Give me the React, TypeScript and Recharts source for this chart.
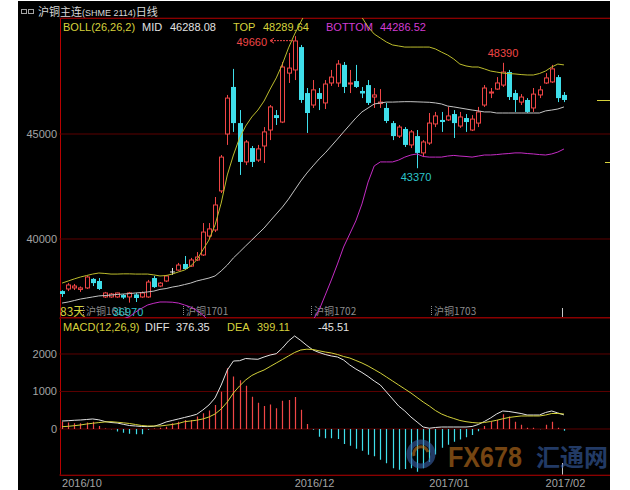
import { ComposedChart, Bar, Line, XAxis, YAxis, CartesianGrid } from "recharts"

// daily K-line, SHFE copper continuous (83 sessions)
const opens = [
  37520, 37620, 37670, 37600, 37670, 38100, 38000, 37240, 37240, 37240,
  37330, 37240, 37360, 37240, 37240, 38140, 37760, 38000, 38430, 38520,
  38810, 38710, 39000, 39240, 40140, 40430, 42290, 45000, 47240, 45520,
  43670, 44330, 43760, 44430, 45190, 45900, 45570, 47900, 48050, 49140,
  46950, 46380, 46950, 46480, 47430, 47430, 48290, 47400, 47520, 47050,
  47330, 46760, 46450, 46240, 45520, 44900, 45240, 44480, 44900, 44100,
  44570, 45480, 45670, 45670, 45950, 45380, 45760, 45190, 45520, 46380,
  46950, 47140, 47330, 47950, 46950, 46520, 46620, 46240, 46860, 47430,
  47480, 47710, 46860,
]
const highs = [
  37560, 37900, 37860, 37740, 38240, 38140, 38140, 37480, 37430, 37450,
  37380, 37480, 37430, 37500, 38050, 38240, 37950, 38290, 38620, 38860,
  39190, 39100, 39380, 40760, 40760, 42000, 44000, 46860, 48100, 46140,
  44710, 44430, 44480, 45330, 46380, 46140, 48430, 48860, 49660, 49240,
  47190, 47570, 47190, 47570, 48050, 48520, 48430, 48050, 48290, 47240,
  47570, 47190, 47140, 46480, 45620, 45430, 45330, 45190, 45190, 44710,
  46000, 46050, 46050, 46290, 46140, 46050, 45950, 45900, 46290, 47330,
  47190, 47710, 48390, 48050, 47100, 46900, 46710, 47190, 47290, 47900,
  48290, 47810, 47000,
]
const lows = [
  37240, 37520, 37570, 37480, 37620, 37760, 37570, 37190, 37200, 37200,
  37140, 36970, 37000, 37200, 37200, 37670, 37710, 37950, 38290, 38480,
  38520, 38670, 38950, 39190, 40050, 40330, 42190, 44480, 45100, 43050,
  43520, 43430, 43670, 43620, 44710, 45430, 45520, 47430, 47570, 46480,
  45050, 46240, 46140, 46190, 47290, 47240, 46950, 46950, 47190, 46710,
  46380, 46240, 46240, 45520, 44710, 44810, 44380, 44330, 43370, 43900,
  44480, 45330, 45100, 45620, 44810, 45290, 45100, 45140, 45330, 46290,
  46710, 47100, 47240, 46620, 46050, 46380, 46000, 46050, 46710, 47380,
  47430, 46520, 46520,
]
const closes = [
  37380, 37810, 37760, 37670, 38190, 37900, 37620, 37430, 37380, 37430,
  37210, 37430, 37190, 37430, 37950, 37710, 37900, 38240, 38430, 38760,
  38570, 39000, 39140, 40330, 40480, 41620, 43900, 46710, 45520, 43670,
  44620, 43670, 44290, 45100, 46290, 45760, 48190, 48140, 49430, 46620,
  46000, 47100, 46670, 47380, 47710, 48330, 47240, 47430, 47240, 46930,
  46480, 46860, 46520, 45620, 44900, 45330, 44480, 45100, 44100, 44620,
  45520, 45860, 45570, 45860, 45520, 45810, 45570, 45710, 46050, 47190,
  47000, 47430, 47950, 46760, 46620, 46760, 46050, 46900, 47100, 47670,
  48100, 46710, 46620,
]

// BOLL(26,26,2)
const bollMid = [
  36950, 37000, 37070, 37140, 37190, 37240, 37290, 37310, 37330, 37360,
  37380, 37400, 37430, 37450, 37480, 37520, 37600, 37640, 37710, 37760,
  37830, 37900, 38000, 38070, 38140, 38240, 38480, 38760, 39100, 39380,
  39670, 39950, 40240, 40520, 40860, 41190, 41520, 41900, 42330, 42760,
  43140, 43480, 43810, 44100, 44430, 44760, 45100, 45430, 45760, 46050,
  46240, 46430, 46480, 46520, 46520, 46530, 46540, 46540, 46530, 46520,
  46510, 46480, 46430, 46330, 46290, 46240, 46190, 46140, 46100, 46050,
  46050, 46000, 46000, 46000, 46000, 46000, 46000, 46000, 46000, 46100,
  46140, 46190, 46288.08,
]
const bollTop = [
  37900, 38000, 38100, 38190, 38260, 38330, 38380, 38360, 38330, 38330,
  38340, 38340, 38330, 38330, 38330, 38290, 38240, 38260, 38330, 38430,
  38520, 38710, 39000, 39480, 39950, 40670, 41710, 43050, 44000, 44810,
  45380, 45810, 46140, 46570, 47140, 47670, 48330, 49100, 49760, 50330,
  50900, 51100, 51100, 51000, 50950, 50900, 50850, 50800, 50700, 50550,
  50100, 49760, 49570, 49380, 49240, 49190, 49140, 49140, 49140, 49140,
  49140, 49050, 48900, 48760, 48570, 48330, 48240, 48190, 48190, 48100,
  48000, 47950, 47900, 47880, 47860, 47830, 47810, 47810, 47880, 48000,
  48190, 48330, 48289.64,
]
const bollBottom = [
  35990, 36000, 36030, 36060, 36080, 36100, 36120, 36140, 36160, 36180,
  36200, 36300, 36520, 36700, 36860, 36940, 37000, 37000, 36990, 36950,
  36860, 36760, 36600, 36380, 36100, 35800, 35250, 34470, 34200, 33950,
  33960, 34090, 34340, 34470, 34580, 34710, 34710, 34700, 34900, 35190,
  35380, 36140, 36620, 37330, 38050, 38810, 39620, 40240, 40860, 41670,
  42710, 43480, 43670, 43670, 43670, 43760, 43900, 44000, 44050, 43930,
  43900, 43900, 43900, 43950, 43980, 43950, 43930, 43900, 43950, 44000,
  44000, 44020, 44050, 44070, 44100, 44100, 44070, 44050, 44020, 44000,
  44050, 44140, 44286.52,
]

// MACD(12,26,9)
const diffs = [
  213, 221, 232, 240, 253, 267, 245, 200, 173, 160,
  125, 93, 80, 67, 64, 72, 120, 187, 227, 267,
  307, 347, 392, 507, 640, 827, 1173, 1573, 1813, 1821,
  1880, 1867, 1859, 1920, 1973, 2008, 2160, 2347, 2480, 2360,
  2227, 2107, 2040, 1987, 1947, 1920, 1840, 1707, 1600, 1507,
  1400, 1280, 1173, 987, 800, 613, 480, 320, 187, 53,
  20, 40, 53, 53, 53, 53, 53, 67, 120, 200,
  293, 400, 480, 467, 440, 413, 373, 373, 373, 440,
  480, 427, 376.35,
]
const deas = [
  61, 72, 88, 107, 133, 152, 171, 187, 195, 181,
  165, 147, 120, 93, 80, 80, 80, 99, 120, 147,
  195, 213, 235, 267, 320, 400, 533, 720, 960, 1147,
  1307, 1427, 1507, 1573, 1667, 1760, 1853, 1947, 2040, 2107,
  2128, 2120, 2085, 2053, 2027, 1987, 1933, 1893, 1827, 1760,
  1680, 1587, 1493, 1387, 1280, 1173, 1067, 960, 840, 720,
  613, 493, 400, 333, 280, 227, 195, 173, 160, 173,
  200, 232, 272, 307, 328, 347, 347, 347, 347, 373,
  413, 413, 399.11,
]
const macdBars = [
  195, 170, 150, 150, 170, 195, 80, 10, -10, -70,
  -100, -130, -140, -140, -20, 10, 30, 60, 150, 195,
  240, 240, 330, 420, 490, 640, 995, 1620, 1400, 1300,
  1150, 860, 700, 610, 650, 550, 750, 770, 850, 510,
  130, -20, -205, -245, -245, -270, -400, -450, -530, -580,
  -690, -730, -820, -915, -1050, -1090, -1070, -1050, -1140, -1050,
  -880, -680, -500, -420, -340, -280, -220, -160, -60, 80,
  195, 240, 390, 330, 195, 110, 30, 30, -10, 110,
  195, 30, -45.51,
]

const monthTicks = [0, 38, 60, 79]
const monthLabels = ["2016/10", "2016/12", "2017/01", "2017/02"]
const contractNames = ["沪铜1611", "沪铜1701", "沪铜1702", "沪铜1703"]
const markedHighs = [38, 72]
const markedLows = [11, 58]

const rows = opens.map((open, i) => ({
  idx: i,
  open,
  high: highs[i],
  low: lows[i],
  close: closes[i],
  range: [lows[i], highs[i]],
  mid: bollMid[i],
  top: bollTop[i],
  bottom: bollBottom[i],
  diff: diffs[i],
  dea: deas[i],
  macd: macdBars[i],
}))

const maxHigh = Math.max(...highs)
const last = rows.length - 1

const RED = "#f04646"
const CYAN = "#3fdeea"
const GRID = "#5c0000"
const FRAME = "#b80000"
const YELLOW = "#d6d23c"
const WHITE = "#e2e2e2"
const MAGENTA = "#d23cd2"
const GRAY = "#a4a4a4"
const FONT = "'Liberation Sans', Arial, 'Noto Sans CJK SC', sans-serif"
const CJK = "'Noto Sans CJK SC', 'Liberation Sans', sans-serif"

function CandleShape(props: any) {
  const { x, y, width, height, payload } = props
  if (!payload || height == null) return null
  const { open, close, high, low, idx } = payload
  const span = high - low || 1
  const py = (v: number) => y + ((high - v) / span) * height
  const cx = Math.round(x + width / 2)
  const lx = cx + 0.5
  const yHigh = py(high)
  const yLow = py(low)
  const yTop = Math.min(py(open), py(close))
  const yBot = Math.max(py(open), py(close))

  let candle
  if (open === close) {
    candle = (
      <g stroke={WHITE} strokeWidth={1}>
        <line x1={lx} x2={lx} y1={yHigh} y2={yLow} />
        <line x1={cx - 2} x2={cx + 3} y1={yTop} y2={yTop} />
      </g>
    )
  } else if (close > open) {
    candle = (
      <g stroke={RED} strokeWidth={1}>
        <line x1={lx} x2={lx} y1={yHigh} y2={yTop} />
        <line x1={lx} x2={lx} y1={yBot} y2={yLow} />
        <rect x={cx - 1.5} y={yTop} width={4} height={Math.max(yBot - yTop, 1)} fill="#000" />
      </g>
    )
  } else {
    candle = (
      <g>
        <line x1={lx} x2={lx} y1={yHigh} y2={yLow} stroke={CYAN} strokeWidth={1} />
        <rect x={cx - 2} y={yTop} width={5} height={Math.max(yBot - yTop, 1)} fill={CYAN} />
      </g>
    )
  }

  let mark = null
  if (markedHighs.includes(idx)) {
    if (high === maxHigh) {
      mark = (
        <g>
          <text x={cx - 28} y={yHigh + 9.5} textAnchor="end" fill={RED} fontSize={11} fontFamily={FONT}>
            {high}
          </text>
          <line x1={cx - 24} x2={cx - 2} y1={yHigh + 4.5} y2={yHigh + 4.5} stroke={RED} strokeDasharray="2 1" />
          <path d={`M${cx - 21},${yHigh + 2} L${cx - 25},${yHigh + 4.5} L${cx - 21},${yHigh + 7}`} stroke={RED} fill="none" />
        </g>
      )
    } else {
      mark = (
        <text x={cx} y={yHigh - 5.5} textAnchor="middle" fill={RED} fontSize={11} fontFamily={FONT}>
          {high}
        </text>
      )
    }
  }
  if (markedLows.includes(idx)) {
    mark = (
      <text x={cx - 1} y={yLow + 13} textAnchor="middle" fill="#2cc4cc" fontSize={11} fontFamily={FONT}>
        {low}
      </text>
    )
  }

  return (
    <g>
      {candle}
      {mark}
    </g>
  )
}

function MacdStick(props: any) {
  const { x, y, width, height, payload } = props
  if (!payload || height == null) return null
  const lx = Math.round(x + width / 2) + 0.5
  return (
    <line
      x1={lx}
      x2={lx}
      y1={y}
      y2={y + height}
      stroke={payload.macd >= 0 ? RED : CYAN}
      strokeWidth={1.2}
    />
  )
}

function MonthTick(props: any) {
  const { x, y, payload } = props
  const k = monthTicks.indexOf(payload.value)
  return (
    <text x={x} y={y + 12} fill={GRAY} fontSize={11} fontFamily={FONT} textAnchor="start">
      {monthLabels[k]}
    </text>
  )
}

const axisTick = { fill: GRAY, fontSize: 11, fontFamily: FONT }

export default function App() {
  return (
    <div style={{ position: "absolute", left: 0, top: 0, width: 630, height: 490, background: "#fff", fontFamily: FONT }}>
      <svg width={630} height={490} style={{ position: "absolute", left: 0, top: 0 }}>
        <rect x={18} y={1} width={592} height={489} fill="#000" />
        {/* title bar */}
        <rect x={21.5} y={9.5} width={5} height={4} fill="none" stroke={GRAY} />
        <rect x={28.5} y={9.5} width={5} height={4} fill="none" stroke={GRAY} />
        <text x={38} y={16} fill="#d8d8d8" fontSize={11} fontFamily={CJK}>
          沪铜主连<tspan fontSize={9} fontFamily={FONT}>(SHME 2114)</tspan>日线
        </text>
        {/* panel frame */}
        <g stroke={FRAME} strokeWidth={1}>
          <line x1={60} x2={610} y1={18.5} y2={18.5} />
          <line x1={60} x2={610} y1={317.5} y2={317.5} />
          <line x1={60} x2={610} y1={475.5} y2={475.5} />
          <line x1={60.5} x2={60.5} y1={18} y2={476} />
        </g>
        {/* BOLL legend */}
        <g fontSize={11} fontFamily={FONT}>
          <text x={63} y={31} fill={YELLOW}>BOLL(26,26,2)</text>
          <text x={142} y={31} fill={WHITE}>MID</text>
          <text x={170} y={31} fill={WHITE}>{bollMid[last].toFixed(2)}</text>
          <text x={233} y={31} fill={YELLOW}>TOP</text>
          <text x={263} y={31} fill={YELLOW}>{bollTop[last].toFixed(2)}</text>
          <text x={326} y={31} fill={MAGENTA}>BOTTOM</text>
          <text x={380} y={31} fill={MAGENTA}>{bollBottom[last].toFixed(2)}</text>
        </g>
        {/* contract roll markers */}
        <text x={60} y={316} fill={YELLOW} fontSize={12} fontFamily={CJK}>{rows.length}天</text>
        <g fill="#8c8c8c" fontSize={10} fontFamily={CJK}>
          <text x={86} y={315}>{contractNames[0]}</text>
          <text x={186} y={315}>{contractNames[1]}</text>
          <text x={314} y={315}>{contractNames[2]}</text>
          <text x={434} y={315}>{contractNames[3]}</text>
        </g>
        <g stroke="#8c8c8c" strokeDasharray="1 1">
          <line x1={83.5} x2={83.5} y1={306} y2={316} />
          <line x1={183.5} x2={183.5} y1={306} y2={316} />
          <line x1={311.5} x2={311.5} y1={306} y2={316} />
          <line x1={431.5} x2={431.5} y1={306} y2={316} />
        </g>
        <line x1={562.5} x2={562.5} y1={308} y2={317} stroke="#c8c8c8" />
        <line x1={562.5} x2={562.5} y1={463} y2={475} stroke="#c8c8c8" />
        <line x1={597} x2={610} y1={100.5} y2={100.5} stroke={YELLOW} />
        <line x1={605} x2={610} y1={162.5} y2={162.5} stroke={YELLOW} />
        {/* MACD legend */}
        <g fontSize={11} fontFamily={FONT}>
          <text x={63} y={331} fill={YELLOW}>MACD(12,26,9)</text>
          <text x={145} y={331} fill={WHITE}>DIFF</text>
          <text x={176} y={331} fill={WHITE}>{diffs[last].toFixed(2)}</text>
          <text x={227} y={331} fill={YELLOW}>DEA</text>
          <text x={257} y={331} fill={YELLOW}>{deas[last].toFixed(2)}</text>
          <text x={318} y={331} fill={WHITE}>{macdBars[last].toFixed(2)}</text>
        </g>
      </svg>

      <div style={{ position: "absolute", left: 0, top: 0 }}>
        <ComposedChart width={630} height={320} data={rows} margin={{ top: 18, right: 20, bottom: 2, left: 0 }}>
          <CartesianGrid horizontal vertical={false} stroke={GRID} />
          <XAxis dataKey="idx" type="category" hide padding={{ left: 0, right: 43 }} />
          <YAxis
            domain={[36238, 50524]}
            ticks={[40000, 45000]}
            allowDataOverflow
            width={59}
            axisLine={false}
            tickLine={false}
            tickSize={0}
            tickMargin={2}
            tick={axisTick}
          />
          <Bar dataKey="range" shape={(p: any) => <CandleShape {...p} />} isAnimationActive={false} />
          <Line dataKey="mid" type="linear" stroke="#c4c4c4" strokeWidth={1} dot={false} activeDot={false} isAnimationActive={false} />
          <Line dataKey="top" type="linear" stroke="#bcbc2c" strokeWidth={1} dot={false} activeDot={false} isAnimationActive={false} />
          <Line dataKey="bottom" type="linear" stroke="#c42cc4" strokeWidth={1} dot={false} activeDot={false} isAnimationActive={false} />
        </ComposedChart>
      </div>

      <div style={{ position: "absolute", left: 0, top: 318 }}>
        <ComposedChart width={630} height={172} data={rows} margin={{ top: 0, right: 20, bottom: 0, left: 0 }}>
          <CartesianGrid horizontal vertical={false} stroke={GRID} />
          <XAxis
            dataKey="idx"
            type="category"
            height={15}
            padding={{ left: 0, right: 43 }}
            ticks={monthTicks}
            interval={0}
            axisLine={false}
            tickLine={false}
            tickSize={0}
            tickMargin={0}
            tick={(p: any) => <MonthTick {...p} />}
          />
          <YAxis
            domain={[-1227, 2960]}
            ticks={[0, 1000, 2000]}
            allowDataOverflow
            width={59}
            axisLine={false}
            tickLine={false}
            tickSize={0}
            tickMargin={2}
            tick={axisTick}
          />
          <Bar dataKey="macd" shape={(p: any) => <MacdStick {...p} />} isAnimationActive={false} />
          <Line dataKey="diff" type="linear" stroke={WHITE} strokeWidth={1} dot={false} activeDot={false} isAnimationActive={false} />
          <Line dataKey="dea" type="linear" stroke="#d2d03a" strokeWidth={1} dot={false} activeDot={false} isAnimationActive={false} />
        </ComposedChart>
      </div>

      {/* site watermark */}
      <svg width={630} height={490} style={{ position: "absolute", left: 0, top: 0, pointerEvents: "none" }}>
        <g opacity={0.6}>
          <circle cx={421} cy={454} r={12} fill="none" stroke="#3a62a8" strokeWidth={5} />
          <path d="M414,456 A7,7 0 1 1 428,452" fill="none" stroke="#c4741e" strokeWidth={3} />
          <text x={448} y={467} fill="#c4741e" fontSize={30} fontWeight="bold" fontFamily={FONT} textLength={74} lengthAdjust="spacingAndGlyphs">
            FX678
          </text>
          <text x={536} y={466} fill="#3a62a8" fontSize={24} fontWeight="bold" fontFamily={CJK}>
            汇通网
          </text>
        </g>
      </svg>
    </div>
  )
}
